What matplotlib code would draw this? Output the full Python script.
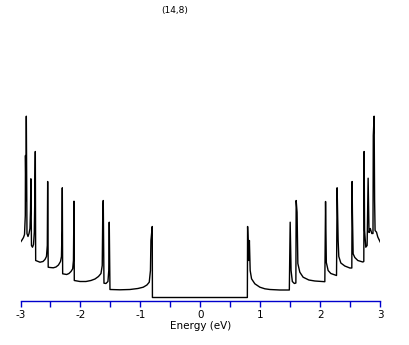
import matplotlib
matplotlib.use("Agg")
import matplotlib.pyplot as plt
from matplotlib.ticker import MultipleLocator

title = "(14,8)"
xlabel = "Energy (eV)"
tick_values = [-3, -2, -1, 0, 1, 2, 3]
tick_labels = ["-3", "-2", "-1", "0", "1", "2", "3"]

# Energy (eV) and density of states (arb. units)
energy = [
    -3.000, -2.975, -2.950, -2.933, -2.920, -2.917, -2.908, -2.903, -2.892, -2.875,
    -2.858, -2.842, -2.833, -2.827, -2.817, -2.800, -2.783, -2.770, -2.762, -2.753,
    -2.747, -2.725, -2.675, -2.625, -2.592, -2.567, -2.553, -2.550, -2.547, -2.538,
    -2.508, -2.453, -2.408, -2.367, -2.333, -2.317, -2.308, -2.303, -2.297,
    -2.230, -2.192, -2.158, -2.130, -2.117, -2.108, -2.103,
    -2.008, -1.908, -1.825, -1.758, -1.700, -1.658, -1.637, -1.628, -1.620, -1.608,
    -1.575, -1.542, -1.528, -1.520, -1.508,
    -1.342, -1.175, -1.042, -0.953, -0.892, -0.853, -0.833, -0.825, -0.803, -0.800,
    0.783, 0.787, 0.805, 0.817, 0.830, 0.853, 0.908, 0.992, 1.075, 1.158, 1.325, 1.483,
    1.497, 1.512, 1.533, 1.567, 1.592, 1.597, 1.612, 1.625, 1.658, 1.713, 1.808, 1.908,
    2.075, 2.087, 2.100, 2.130, 2.175, 2.270,
    2.280, 2.297, 2.308, 2.342, 2.408, 2.492, 2.525,
    2.530, 2.535, 2.547, 2.575, 2.625, 2.708, 2.725,
    2.730, 2.738, 2.758, 2.780, 2.797, 2.812, 2.833, 2.858, 2.878, 2.883, 2.897,
    2.905, 2.913, 2.937, 2.958, 3.000,
]
dos = [
    0.583, 0.605, 0.630, 0.660, 0.850, 1.450, 1.000, 1.843, 0.670, 0.640,
    0.670, 0.720, 0.900, 1.217, 0.550, 0.533, 0.560, 0.683, 1.000, 1.490,
    0.400, 0.395, 0.383, 0.390, 0.410, 0.440, 0.550, 0.880, 1.190, 0.333,
    0.330, 0.327, 0.335, 0.355, 0.390, 0.440, 0.700, 1.127, 0.267,
    0.260, 0.270, 0.290, 0.317, 0.400, 0.993, 0.200,
    0.190, 0.190, 0.200, 0.215, 0.240, 0.270, 0.350, 0.883, 1.000, 0.173,
    0.170, 0.190, 0.300, 0.783, 0.110,
    0.107, 0.110, 0.120, 0.133, 0.155, 0.183, 0.300, 0.600, 0.740, 0.030,
    0.030, 0.740, 0.400, 0.600, 0.300, 0.217, 0.167, 0.133, 0.117, 0.110, 0.105, 0.105,
    0.783, 0.300, 0.190, 0.170, 0.175, 1.000, 0.883, 0.370, 0.283, 0.233, 0.205, 0.195,
    0.188, 0.990, 0.380, 0.300, 0.270, 0.250,
    1.127, 0.600, 0.440, 0.375, 0.345, 0.325, 0.325,
    1.190, 0.880, 0.467, 0.430, 0.400, 0.385, 0.390,
    1.490, 0.700, 0.533, 0.550, 1.223, 0.680, 0.720, 0.670, 0.670, 1.650, 1.843,
    1.000, 0.700, 0.683, 0.635, 0.583,
]

W, H = 409, 345
fig = plt.figure(figsize=(W / 100, H / 100), dpi=100)
ax = fig.add_axes([20.5 / W, (H - 300.5) / H, 359.8 / W, 300 / H])
ax.plot(energy, dos, color="black", lw=1.0)
ax.set_xlim(-3, 3)
ax.set_ylim(0, 3.0)

blue = "#0000cc"
for s in ("left", "right", "top"):
    ax.spines[s].set_visible(False)
ax.spines["bottom"].set_color(blue)
ax.spines["bottom"].set_linewidth(1.0)
ax.set_yticks([])
ax.set_xticks(tick_values)
ax.set_xticklabels(tick_labels)
ax.xaxis.set_minor_locator(MultipleLocator(0.5))
ax.tick_params(axis="x", which="both", direction="out", length=4.5, width=1.0,
               color=blue, labelcolor="black", labelsize=7.5, pad=2)
ax.set_xlabel(xlabel, fontsize=7.5, labelpad=1)
fig.text(175 / W, 1 - 10 / H, title, fontsize=6.5, ha="center", va="center")

fig.savefig("out.png", dpi=100)
